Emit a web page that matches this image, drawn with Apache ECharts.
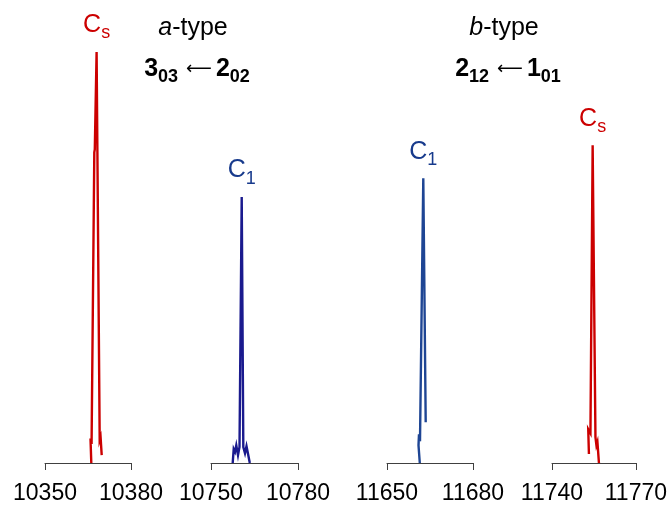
<!DOCTYPE html>
<html><head><meta charset="utf-8">
<script src="https://cdn.jsdelivr.net/npm/echarts@6/dist/echarts.min.js"></script>
<style>html,body{margin:0;padding:0;background:#fff}#c{width:670px;height:505px}</style>
</head><body><div id="c"></div>
<script>
// ---- data (frequency in MHz, relative intensity) ----
const ranges = [[10350, 10380], [10750, 10780], [11650, 11680], [11740, 11770]];

// a-type 3_03 <- 2_02, Cs conformer
const csA_x = [10366.15, 10365.87, 10366.25, 10367.20, 10367.37, 10368.00, 10368.28, 10369.08, 10369.39, 10369.78];
const csA_y = [0, 0.060, 0.046, 0.756, 0.763, 1.000, 0.756, 0.056, 0.063, 0.019];
// a-type 3_03 <- 2_02, C1 conformer
const c1A_x = [10757.48, 10757.83, 10758.28, 10758.72, 10759.31, 10759.83, 10760.59, 10761.14, 10761.72, 10762.24, 10762.86, 10763.38];
const c1A_y = [0, 0.034, 0.027, 0.043, 0.019, 0.039, 0.647, 0.039, 0.024, 0.041, 0.019, 0];
// b-type 2_12 <- 1_01, C1 conformer
const c1B_x = [11661.44, 11660.99, 11661.16, 11661.51, 11662.66, 11663.50];
const c1B_y = [0, 0.043, 0.070, 0.053, 0.693, 0.099];
// b-type 2_12 <- 1_01, Cs conformer
const csB_x = [11753.21, 11752.96, 11753.75, 11754.54, 11755.54, 11755.89, 11756.25, 11756.79];
const csB_y = [0.022, 0.082, 0.072, 0.773, 0.063, 0.043, 0.051, 0];

const peakNames = [["C", "s"], ["C", "1"], ["C", "1"], ["C", "s"]];
const headTypes = [["a", "-type"], ["b", "-type"]];
const headTrans = [["3", "03", "2", "02"], ["2", "12", "1", "01"]];

// ---- styles ----
const FONT = "'Liberation Sans', Arial, sans-serif";
const RED = '#CC0000';
const BLUE_TXT = '#173A8C';
const lineColors = [RED, '#1A1A8E', '#1E4594', RED];
const txtColors = [RED, BLUE_TXT, BLUE_TXT, RED];
const gridLefts = [45, 211, 387, 552];
const gridWidths = [86, 87, 86, 84];
const GRID_TOP = 52, GRID_H = 414;

const xs = [csA_x, c1A_x, c1B_x, csB_x];
const ys = [csA_y, c1A_y, c1B_y, csB_y];

const grids = [], xAxes = [], yAxes = [], series = [];
for (let i = 0; i < 4; i++) {
  grids.push({ left: gridLefts[i], width: gridWidths[i], top: GRID_TOP, height: GRID_H });
  xAxes.push({
    type: 'value', gridIndex: i, min: ranges[i][0], max: ranges[i][1], interval: 30,
    axisLine: { show: true, lineStyle: { color: '#404040', width: 1 } },
    axisTick: { show: true, length: 7, lineStyle: { color: '#404040', width: 1 } },
    splitLine: { show: false },
    axisLabel: { fontSize: 23, color: '#000', fontFamily: FONT, margin: 19, showMinLabel: true, showMaxLabel: true,
      formatter: v => String(v) }
  });
  yAxes.push({ type: 'value', gridIndex: i, min: 0, max: 1, show: false });
  const data = xs[i].map((x, j) => [x, ys[i][j]]);
  let pk = 0;
  ys[i].forEach((v, j) => { if (v > ys[i][pk]) pk = j; });
  series.push({
    type: 'line', xAxisIndex: i, yAxisIndex: i, data: data,
    showSymbol: false, symbol: 'none', silent: true, animation: false,
    lineStyle: { color: lineColors[i], width: 2.4, join: 'miter' }
  });
  series.push({
    type: 'scatter', xAxisIndex: i, yAxisIndex: i, data: [data[pk]],
    symbol: 'circle', symbolSize: 1, silent: true, animation: false,
    itemStyle: { color: 'rgba(0,0,0,0)' },
    label: {
      show: true, position: 'top', distance: 9, textBorderWidth: 0, opacity: 1,
      formatter: '{m|' + peakNames[i][0] + '}{s|' + peakNames[i][1] + '}',
      rich: {
        m: { fontSize: 25, fontFamily: FONT, color: txtColors[i], verticalAlign: 'middle', lineHeight: 34 },
        s: { fontSize: 18, fontFamily: FONT, color: txtColors[i], verticalAlign: 'bottom', lineHeight: 34 }
      }
    }
  });
}

function headGraphics() {
  const g = [];
  const cx = [193, 504];
  for (let k = 0; k < 2; k++) {
    g.push({
      type: 'text', x: cx[k], y: 28,
      style: {
        text: '{i|' + headTypes[k][0] + '}{n|' + headTypes[k][1] + '}',
        align: 'center', verticalAlign: 'middle',
        rich: {
          i: { fontSize: 25, fontFamily: FONT, fontStyle: 'italic', fill: '#000' },
          n: { fontSize: 25, fontFamily: FONT, fill: '#000' }
        }
      }
    });
    const t = headTrans[k];
    g.push({
      type: 'text', x: cx[k] + 4, y: 69,
      style: {
        text: '{b|' + t[0] + '}{s|' + t[1] + '}{a|⟵}{b|' + t[2] + '}{s|' + t[3] + '}',
        align: 'center', verticalAlign: 'middle',
        rich: {
          b: { fontSize: 25, fontWeight: 'bold', fontFamily: FONT, fill: '#000', verticalAlign: 'middle', lineHeight: 34 },
          s: { fontSize: 18, fontWeight: 'bold', fontFamily: FONT, fill: '#000', verticalAlign: 'bottom', lineHeight: 34 },
          a: { fontSize: 18, fontFamily: "'DejaVu Sans', sans-serif", fill: '#000', verticalAlign: 'middle', lineHeight: 34, padding: [0, 4, 0, 8] }
        }
      }
    });
  }
  return g;
}

const chart = echarts.init(document.getElementById('c'), null, { renderer: 'canvas' });
chart.setOption({
  animation: false,
  backgroundColor: '#fff',
  grid: grids, xAxis: xAxes, yAxis: yAxes, series: series,
  graphic: headGraphics()
});
</script></body></html>
